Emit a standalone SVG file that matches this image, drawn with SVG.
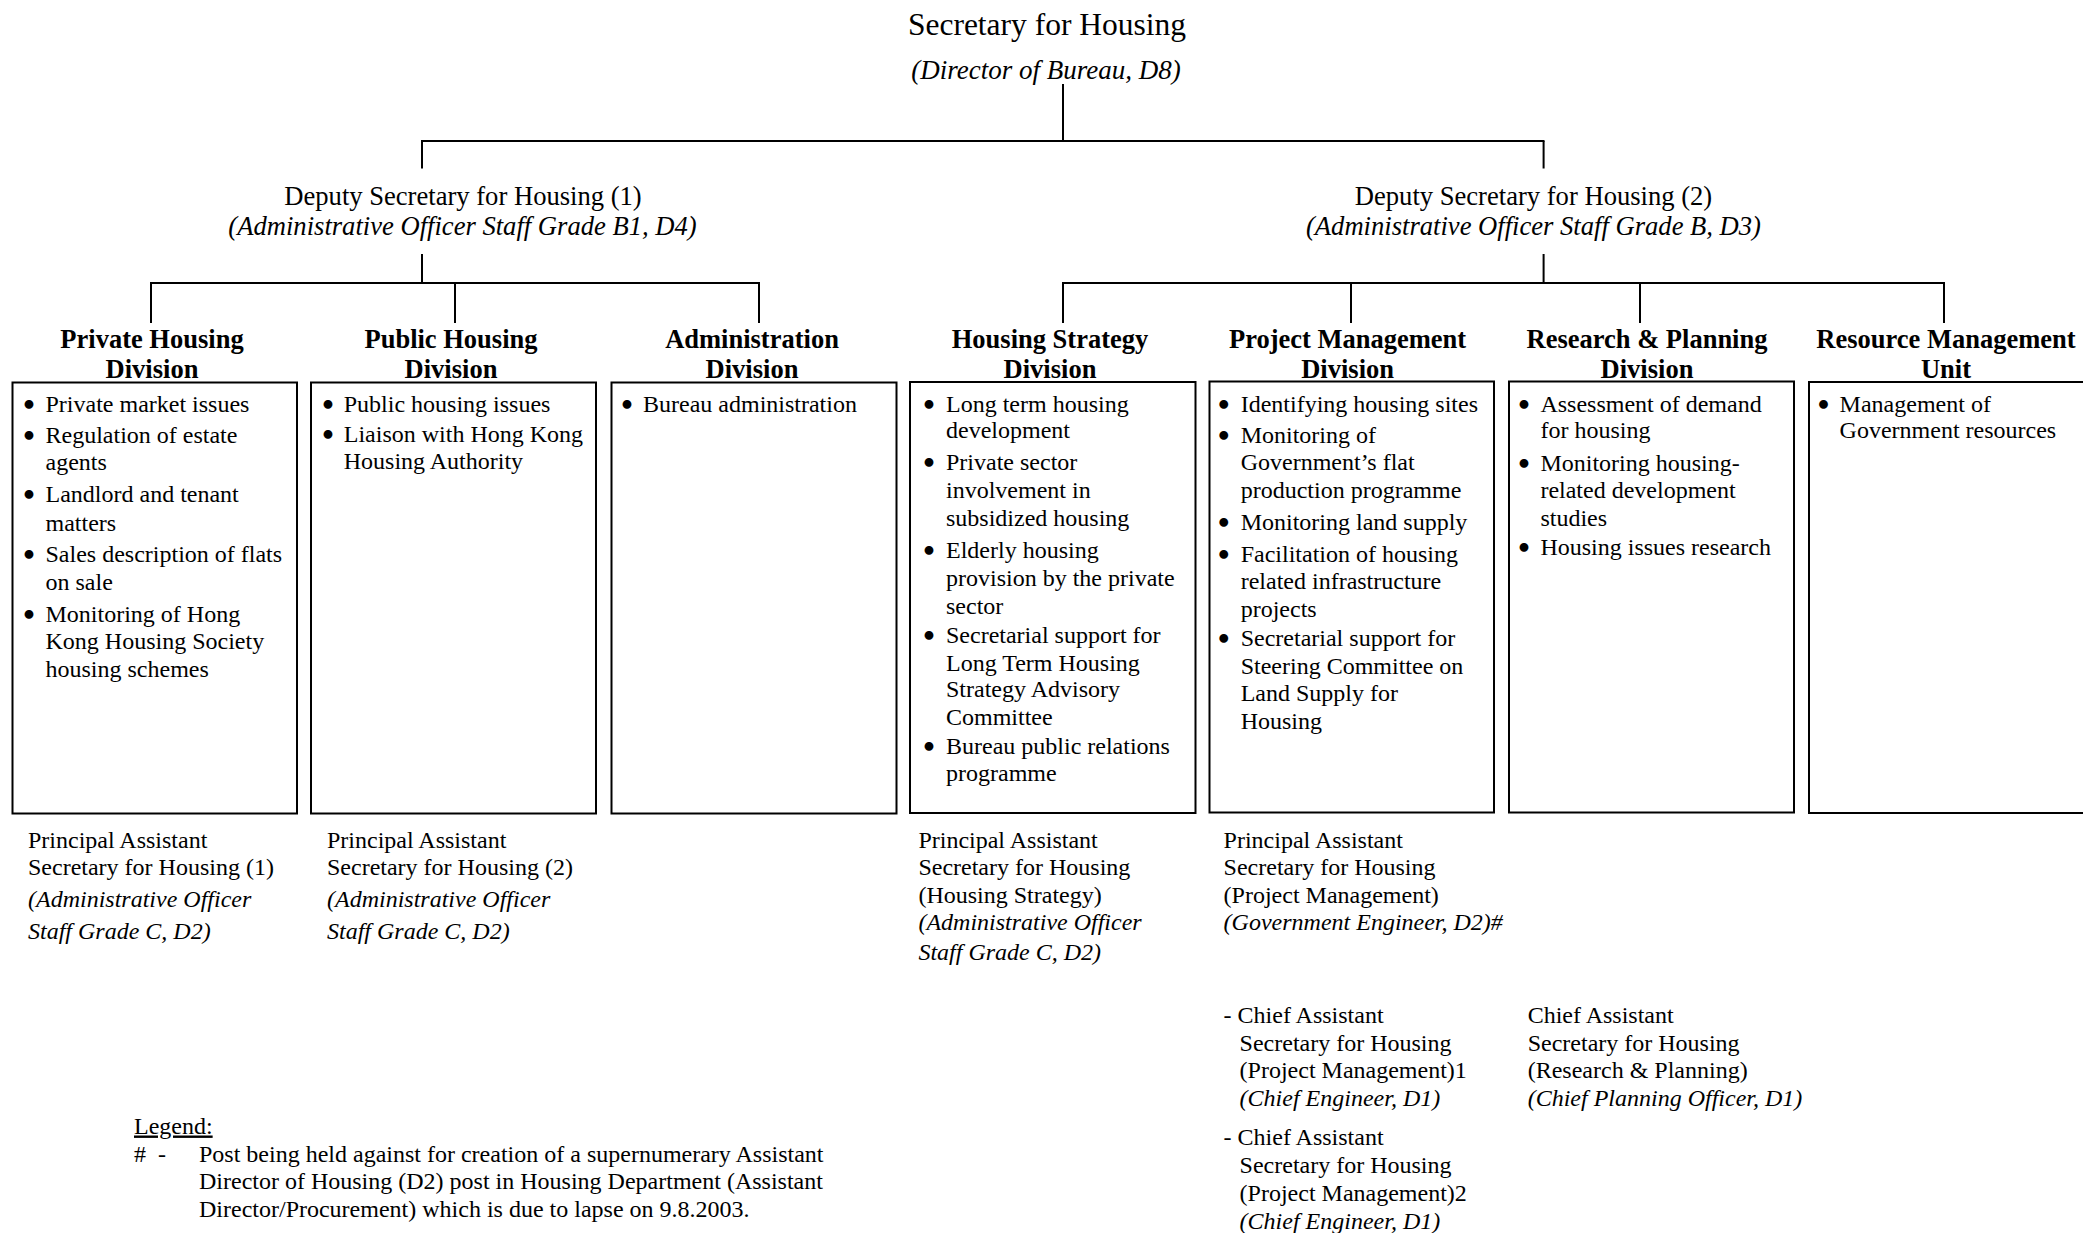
<svg xmlns="http://www.w3.org/2000/svg" width="2083" height="1233" viewBox="0 0 2083 1233">
<style>
text{font-family:"Liberation Serif","Times New Roman",serif;fill:#000}
.title{font-size:31.5px;text-anchor:middle}
.sub{font-size:27px;font-style:italic;text-anchor:middle}
.ds{font-size:26.6px;text-anchor:middle}
.it{font-style:italic}
.h{font-size:26.5px;font-weight:bold;text-anchor:middle}
.b{font-size:24px}
text.bul{font-family:"DejaVu Sans",sans-serif;font-size:25px;font-weight:bold;text-anchor:middle}
.box{fill:#fff;stroke:#000;stroke-width:2}
.conn line{stroke:#000;stroke-width:2}
</style>
<rect width="2083" height="1233" fill="#fff"/>

<g id="connectors" class="conn">
<line x1="1063" y1="84" x2="1063" y2="141"/>
<line x1="421" y1="141" x2="1544.5" y2="141"/>
<line x1="422" y1="141" x2="422" y2="168.5"/>
<line x1="1543.6" y1="141" x2="1543.6" y2="168.5"/>
<line x1="422" y1="254" x2="422" y2="283"/>
<line x1="150" y1="283" x2="760" y2="283"/>
<line x1="151" y1="283" x2="151" y2="323"/>
<line x1="455" y1="283" x2="455" y2="323"/>
<line x1="759" y1="283" x2="759" y2="323"/>
<line x1="1543.6" y1="254" x2="1543.6" y2="283"/>
<line x1="1062" y1="283" x2="1945" y2="283"/>
<line x1="1063" y1="283" x2="1063" y2="323"/>
<line x1="1351" y1="283" x2="1351" y2="323"/>
<line x1="1640" y1="283" x2="1640" y2="323"/>
<line x1="1944" y1="283" x2="1944" y2="323"/>
</g>

<g id="secretary">
<text class="title" x="1047" y="35">Secretary for Housing</text>
<text class="sub" x="1046" y="78.5">(Director of Bureau, D8)</text>
</g>

<g id="deputy1">
<text class="ds" x="463" y="204.5">Deputy Secretary for Housing (1)</text>
<text class="ds it" x="462.5" y="235">(Administrative Officer Staff Grade B1, D4)</text>
</g>

<g id="deputy2">
<text class="ds" x="1533.5" y="204.5">Deputy Secretary for Housing (2)</text>
<text class="ds it" x="1533.5" y="235">(Administrative Officer Staff Grade B, D3)</text>
</g>

<g id="private-housing">
<text class="h" x="152" y="347.5">Private Housing</text>
<text class="h" x="152" y="377.5">Division</text>
<rect class="box" x="12.5" y="382.5" width="284.5" height="431"/>
<text class="bul" x="29" y="413.5">•</text><text class="b" x="45.5" y="411.5">Private market issues</text>
<text class="bul" x="29" y="445">•</text><text class="b" x="45.5" y="443">Regulation of estate</text>
<text class="b" x="45.5" y="470">agents</text>
<text class="bul" x="29" y="504">•</text><text class="b" x="45.5" y="502">Landlord and tenant</text>
<text class="b" x="45.5" y="530.5">matters</text>
<text class="bul" x="29" y="564">•</text><text class="b" x="45.5" y="562">Sales description of flats</text>
<text class="b" x="45.5" y="589.5">on sale</text>
<text class="bul" x="29" y="624">•</text><text class="b" x="45.5" y="622">Monitoring of Hong</text>
<text class="b" x="45.5" y="649.3">Kong Housing Society</text>
<text class="b" x="45.5" y="677">housing schemes</text>
</g>

<g id="public-housing">
<text class="h" x="451" y="347.5">Public Housing</text>
<text class="h" x="451" y="377.5">Division</text>
<rect class="box" x="311" y="382.5" width="285" height="431"/>
<text class="bul" x="328" y="413.5">•</text><text class="b" x="343.75" y="411.5">Public housing issues</text>
<text class="bul" x="328" y="443.5">•</text><text class="b" x="343.75" y="441.5">Liaison with Hong Kong</text>
<text class="b" x="343.75" y="468.5">Housing Authority</text>
</g>

<g id="administration">
<text class="h" x="752" y="347.5">Administration</text>
<text class="h" x="752" y="377.5">Division</text>
<rect class="box" x="611.5" y="382.5" width="285" height="431"/>
<text class="bul" x="627" y="413.5">•</text><text class="b" x="643" y="411.5">Bureau administration</text>
</g>

<g id="housing-strategy">
<text class="h" x="1050" y="347.5">Housing Strategy</text>
<text class="h" x="1050" y="377.5">Division</text>
<rect class="box" x="910" y="382" width="285.5" height="431"/>
<text class="bul" x="929" y="413.5">•</text><text class="b" x="946" y="411.5">Long term housing</text>
<text class="b" x="946" y="438">development</text>
<text class="bul" x="929" y="472">•</text><text class="b" x="946" y="470">Private sector</text>
<text class="b" x="946" y="498">involvement in</text>
<text class="b" x="946" y="526">subsidized housing</text>
<text class="bul" x="929" y="560">•</text><text class="b" x="946" y="558">Elderly housing</text>
<text class="b" x="946" y="585.5">provision by the private</text>
<text class="b" x="946" y="613.5">sector</text>
<text class="bul" x="929" y="645">•</text><text class="b" x="946" y="643">Secretarial support for</text>
<text class="b" x="946" y="670.5">Long Term Housing</text>
<text class="b" x="946" y="697">Strategy Advisory</text>
<text class="b" x="946" y="725">Committee</text>
<text class="bul" x="929" y="756">•</text><text class="b" x="946" y="754">Bureau public relations</text>
<text class="b" x="946" y="781">programme</text>
</g>

<g id="project-management">
<text class="h" x="1347.6" y="347.5">Project Management</text>
<text class="h" x="1347.6" y="377.5">Division</text>
<rect class="box" x="1209.5" y="381.5" width="284.5" height="431"/>
<text class="bul" x="1223.75" y="413.5">•</text><text class="b" x="1240.7" y="411.5">Identifying housing sites</text>
<text class="bul" x="1223.75" y="445.4">•</text><text class="b" x="1240.7" y="443.4">Monitoring of</text>
<text class="b" x="1240.7" y="470">Government’s flat</text>
<text class="b" x="1240.7" y="498">production programme</text>
<text class="bul" x="1223.75" y="532">•</text><text class="b" x="1240.7" y="530">Monitoring land supply</text>
<text class="bul" x="1223.75" y="563.7">•</text><text class="b" x="1240.7" y="561.7">Facilitation of housing</text>
<text class="b" x="1240.7" y="589">related infrastructure</text>
<text class="b" x="1240.7" y="617">projects</text>
<text class="bul" x="1223.75" y="647.5">•</text><text class="b" x="1240.7" y="645.5">Secretarial support for</text>
<text class="b" x="1240.7" y="674">Steering Committee on</text>
<text class="b" x="1240.7" y="700.5">Land Supply for</text>
<text class="b" x="1240.7" y="728.7">Housing</text>
</g>

<g id="research-planning">
<text class="h" x="1647" y="347.5">Research &amp; Planning</text>
<text class="h" x="1647" y="377.5">Division</text>
<rect class="box" x="1509" y="381.5" width="285" height="431"/>
<text class="bul" x="1524" y="413.5">•</text><text class="b" x="1540.4" y="411.5">Assessment of demand</text>
<text class="b" x="1540.4" y="438">for housing</text>
<text class="bul" x="1524" y="473">•</text><text class="b" x="1540.4" y="471">Monitoring housing-</text>
<text class="b" x="1540.4" y="498">related development</text>
<text class="b" x="1540.4" y="525.5">studies</text>
<text class="bul" x="1524" y="557">•</text><text class="b" x="1540.4" y="555">Housing issues research</text>
</g>

<g id="resource-management">
<text class="h" x="1946" y="347.5">Resource Management</text>
<text class="h" x="1946" y="377.5">Unit</text>
<rect class="box" x="1809" y="382" width="300" height="431"/>
<text class="bul" x="1823.5" y="413.5">•</text><text class="b" x="1839.6" y="411.5">Management of</text>
<text class="b" x="1839.6" y="438">Government resources</text>
</g>

<g id="pas1">
<text class="b" x="28" y="848">Principal Assistant</text>
<text class="b" x="28" y="875">Secretary for Housing (1)</text>
<text class="b it" x="28" y="906.5">(Administrative Officer</text>
<text class="b it" x="28" y="938.5">Staff Grade C, D2)</text>
</g>

<g id="pas2">
<text class="b" x="327" y="848">Principal Assistant</text>
<text class="b" x="327" y="875">Secretary for Housing (2)</text>
<text class="b it" x="327" y="906.5">(Administrative Officer</text>
<text class="b it" x="327" y="938.5">Staff Grade C, D2)</text>
</g>

<g id="pas-hs">
<text class="b" x="918.4" y="848">Principal Assistant</text>
<text class="b" x="918.4" y="875">Secretary for Housing</text>
<text class="b" x="918.4" y="902.5">(Housing Strategy)</text>
<text class="b it" x="918.4" y="930">(Administrative Officer</text>
<text class="b it" x="918.4" y="960">Staff Grade C, D2)</text>
</g>

<g id="pas-pm">
<text class="b" x="1223.6" y="848">Principal Assistant</text>
<text class="b" x="1223.6" y="875">Secretary for Housing</text>
<text class="b" x="1223.6" y="902.5">(Project Management)</text>
<text class="b it" x="1223.6" y="930">(Government Engineer, D2)#</text>
</g>

<g id="cas-pm1">
<text class="b" x="1223.6" y="1022.5">- Chief Assistant</text>
<text class="b" x="1239.6" y="1050.5">Secretary for Housing</text>
<text class="b" x="1239.6" y="1077.5">(Project Management)1</text>
<text class="b it" x="1239.6" y="1106">(Chief Engineer, D1)</text>
</g>

<g id="cas-pm2">
<text class="b" x="1223.6" y="1144.5">- Chief Assistant</text>
<text class="b" x="1239.6" y="1172.5">Secretary for Housing</text>
<text class="b" x="1239.6" y="1200.5">(Project Management)2</text>
<text class="b it" x="1239.6" y="1228.5">(Chief Engineer, D1)</text>
</g>

<g id="cas-rp">
<text class="b" x="1527.7" y="1022.5">Chief Assistant</text>
<text class="b" x="1527.7" y="1050.5">Secretary for Housing</text>
<text class="b" x="1527.7" y="1077.5">(Research &amp; Planning)</text>
<text class="b it" x="1527.7" y="1106">(Chief Planning Officer, D1)</text>
</g>

<g id="legend">
<text class="b" x="134" y="1133.5" text-decoration="underline">Legend:</text>
<text class="b" x="134" y="1161.5">#</text>
<text class="b" x="158" y="1161.5">-</text>
<text class="b" x="199" y="1161.5">Post being held against for creation of a supernumerary Assistant</text>
<text class="b" x="199" y="1188.5">Director of Housing (D2) post in Housing Department (Assistant</text>
<text class="b" x="199" y="1216.5">Director/Procurement) which is due to lapse on 9.8.2003.</text>
</g>
</svg>
